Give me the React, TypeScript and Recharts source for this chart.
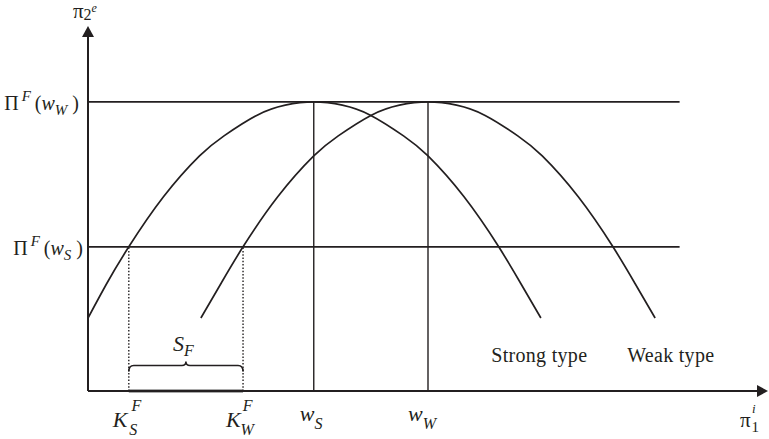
import React from "react";
import {
  LineChart,
  Line,
  XAxis,
  YAxis,
  ReferenceLine,
  ReferenceDot,
} from "recharts";

// payoff curves (x = pi_1^i, y = pi_2^e)
const strongX = [0, 2.8, 6.0, 11.1, 16.4, 20.0, 24.8, 29.0, 33.2, 37.4, 41.6, 46.4, 50.0, 55.3, 60.4, 63.6, 66.6];
const strongY = [20, 29.6, 39.5, 53.2, 64.4, 69.9, 75.5, 78.3, 79.2, 78.3, 75.5, 69.9, 64.4, 53.2, 39.5, 29.6, 20];
const weakX = [16.6, 19.6, 22.8, 27.9, 33.2, 36.8, 41.6, 45.8, 50.0, 54.2, 58.4, 63.2, 66.8, 72.1, 77.2, 80.4, 83.4];
const weakY = [20, 29.6, 39.5, 53.2, 64.4, 69.9, 75.5, 78.3, 79.2, 78.3, 75.5, 69.9, 64.4, 53.2, 39.5, 29.6, 20];

// key levels
const profitLevels = [39.5, 79.2]; // Pi^F(w_S), Pi^F(w_W)
const thresholds = [6.0, 22.8]; // K_S^F, K_W^F
const peaks = [33.2, 50]; // w_S, w_W
const levelLineEnd = 87;

// tick labels
const xTickValues = [6.0, 22.8, 33.2, 50, 100];
const xTickLabels = [
  { base: "K", sup: "F", sub: "S" },
  { base: "K", sup: "F", sub: "W" },
  { base: "w", sup: "", sub: "S" },
  { base: "w", sup: "", sub: "W" },
  { base: "π", sup: "i", sub: "1" },
];
const yTickValues = [39.5, 79.2, 100];
const yTickLabels = ["S", "W", ""];

const typeLabels = ["Strong type", "Weak type"];
const typeLabelX = [59.3, 79.3];
const typeLabelY = 7.9;
const braceY = 7;

const INK = "#231f20";
const FONT = "'Liberation Serif', 'DejaVu Serif', serif";

const strongData = strongX.map((x, i) => ({ x, y: strongY[i] }));
const weakData = weakX.map((x, i) => ({ x, y: weakY[i] }));

// pixel offsets for each x label relative to its tick (tick y = axis + 1)
const xLayout = [
  { b: -16, by: 36, supDx: 4, supDy: -16, subDx: -12, subDy: 24 },
  { b: -17, by: 36, supDx: 2, supDy: -16, subDx: -12, subDy: 24 },
  { b: -14, by: 30, supDx: 0, supDy: 0, subDx: 0, subDy: 8 },
  { b: -20, by: 30, supDx: 0, supDy: 0, subDx: 0, subDy: 8 },
  { b: -28, by: 36, supDx: 0, supDy: 0, subDx: 1, subDy: 5 },
];
const yLabelEnd = [-5, -9];

function XTick(props: any) {
  const { x, y, payload } = props;
  const i = xTickValues.indexOf(payload.value);
  if (i < 0) return null;
  const lab = xTickLabels[i];
  const l = xLayout[i];
  if (lab.base === "π") {
    return (
      <text x={x + l.b} y={y + l.by} fontFamily={FONT} fill={INK} fontSize={21}>
        π
        <tspan fontSize={15} dx={l.subDx} dy={l.subDy}>1</tspan>
        <tspan fontSize={13} fontStyle="italic" dx={-7} dy={-19}>i</tspan>
      </text>
    );
  }
  return (
    <text x={x + l.b} y={y + l.by} fontFamily={FONT} fill={INK} fontSize={22} fontStyle="italic">
      {lab.base}
      {lab.sup && (
        <tspan fontSize={16} dx={l.supDx} dy={l.supDy}>
          {lab.sup}
        </tspan>
      )}
      <tspan fontSize={16} dx={l.subDx} dy={l.subDy}>
        {lab.sub}
      </tspan>
    </text>
  );
}

function YTick(props: any) {
  const { x, y, payload } = props;
  const i = yTickValues.indexOf(payload.value);
  if (i < 0) return null;
  if (i === 2) {
    return (
      <text x={x - 15} y={y - 8} fontFamily={FONT} fill={INK} fontSize={21}>
        π
        <tspan fontSize={16} dx={0} dy={2}>2</tspan>
        <tspan fontSize={12} fontStyle="italic" dx={0} dy={-8}>e</tspan>
      </text>
    );
  }
  return (
    <text x={x + yLabelEnd[i]} y={y + 8} textAnchor="end" fontFamily={FONT} fill={INK} fontSize={20}>
      <tspan>Π</tspan>
      <tspan fontSize={15} fontStyle="italic" dx={3} dy={-9}>F</tspan>
      <tspan dx={4} dy={9}>(</tspan>
      <tspan fontStyle="italic">w</tspan>
      <tspan fontSize={15} fontStyle="italic" dy={5}>{yTickLabels[i]}</tspan>
      <tspan dx={5} dy={-5}>)</tspan>
    </text>
  );
}

function ArrowLine(props: any) {
  const { x1, y1, x2, y2 } = props;
  const dx = x2 - x1;
  const dy = y2 - y1;
  const len = Math.sqrt(dx * dx + dy * dy) || 1;
  const ux = dx / len;
  const uy = dy / len;
  const head = 11;
  const half = 6;
  const bx = x2 - ux * head;
  const by = y2 - uy * head;
  return (
    <g>
      <line x1={x1} y1={y1} x2={bx} y2={by} stroke={INK} strokeWidth={2} />
      <polygon
        points={`${x2},${y2} ${bx - uy * half},${by + ux * half} ${bx + uy * half},${by - ux * half}`}
        fill={INK}
      />
    </g>
  );
}

function Brace(props: any) {
  const { x1, y1, x2 } = props;
  const y = y1;
  const cx = (x1 + x2) / 2;
  const d = `M ${x1} ${y + 6} Q ${x1} ${y} ${x1 + 5} ${y} L ${cx - 4} ${y} Q ${cx} ${y} ${cx} ${y - 4} Q ${cx} ${y} ${cx + 4} ${y} L ${x2 - 5} ${y} Q ${x2} ${y} ${x2} ${y + 6}`;
  return (
    <g>
      <path d={d} fill="none" stroke={INK} strokeWidth={1.6} />
      <text x={cx - 13} y={y - 14} fontFamily={FONT} fontSize={22} fontStyle="italic" fill={INK}>
        S
        <tspan fontSize={16} dx={0} dy={5}>F</tspan>
      </text>
    </g>
  );
}

function TypeText(props: any) {
  const { cx, cy, value } = props;
  return (
    <text x={cx} y={cy} fontFamily={FONT} fontSize={20} letterSpacing={0.3} fill={INK}>
      {value}
    </text>
  );
}

export default function App() {
  return (
    <div style={{ position: "absolute", left: 0, top: 0, width: 769, height: 439, background: "#fff" }}>
      <LineChart width={769} height={439} margin={{ top: 26, right: 1, bottom: 47, left: 87 }}>
        <XAxis
          type="number"
          dataKey="x"
          domain={[0, 100]}
          ticks={xTickValues}
          interval={0}
          tick={<XTick />}
          axisLine={false}
          tickLine={false}
          tickSize={0}
          tickMargin={0}
          height={1}
          allowDataOverflow
        />
        <YAxis
          type="number"
          dataKey="y"
          domain={[0, 100]}
          ticks={yTickValues}
          interval={0}
          tick={<YTick />}
          axisLine={false}
          tickLine={false}
          tickSize={0}
          tickMargin={0}
          width={1}
          allowDataOverflow
        />

        {/* profit levels */}
        {profitLevels.map((lv) => (
          <ReferenceLine
            key={`lv-${lv}`}
            segment={[{ x: 0, y: lv }, { x: levelLineEnd, y: lv }]}
            stroke={INK}
            strokeWidth={1.6}
            ifOverflow="visible"
          />
        ))}

        {/* w_S, w_W */}
        {peaks.map((p) => (
          <ReferenceLine
            key={`pk-${p}`}
            segment={[{ x: p, y: 0 }, { x: p, y: profitLevels[1] }]}
            stroke={INK}
            strokeWidth={1.4}
            ifOverflow="visible"
          />
        ))}

        {/* K_S^F, K_W^F */}
        {thresholds.map((k) => (
          <ReferenceLine
            key={`k-${k}`}
            segment={[{ x: k, y: 0 }, { x: k, y: profitLevels[0] }]}
            stroke={INK}
            strokeWidth={1.4}
            strokeDasharray="1.5 1.8"
            ifOverflow="visible"
          />
        ))}

        <ReferenceLine
          segment={[{ x: thresholds[0], y: 0 }, { x: thresholds[1], y: 0 }]}
          stroke="#555"
          strokeWidth={3}
          ifOverflow="visible"
        />

        <ReferenceLine
          segment={[{ x: thresholds[0], y: braceY }, { x: thresholds[1], y: braceY }]}
          shape={Brace}
          ifOverflow="visible"
        />

        {/* axes with arrows */}
        <ReferenceLine segment={[{ x: 0, y: 0 }, { x: 100, y: 0 }]} shape={ArrowLine} ifOverflow="visible" />
        <ReferenceLine segment={[{ x: 0, y: 0 }, { x: 0, y: 100 }]} shape={ArrowLine} ifOverflow="visible" />

        <Line
          data={strongData}
          dataKey="y"
          type="natural"
          stroke={INK}
          strokeWidth={1.7}
          dot={false}
          activeDot={false}
          isAnimationActive={false}
        />
        <Line
          data={weakData}
          dataKey="y"
          type="natural"
          stroke={INK}
          strokeWidth={1.7}
          dot={false}
          activeDot={false}
          isAnimationActive={false}
        />

        {typeLabels.map((t, i) => (
          <ReferenceDot
            key={t}
            x={typeLabelX[i]}
            y={typeLabelY}
            r={0}
            ifOverflow="visible"
            shape={(p: any) => <TypeText {...p} value={t} />}
          />
        ))}
      </LineChart>
    </div>
  );
}
